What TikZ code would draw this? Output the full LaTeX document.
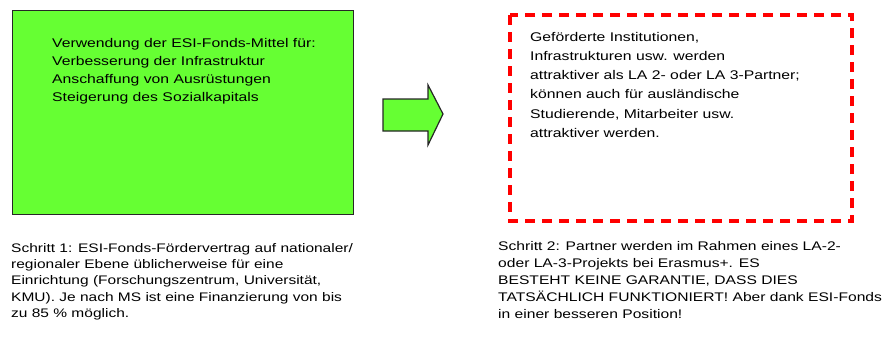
\documentclass[tikz,border=0pt]{standalone}
\usepackage{fontspec}
\setmainfont{Liberation Sans}
\newfontfamily\widefont[FakeStretch=1.25]{Liberation Sans}
\begin{document}
\begin{tikzpicture}[x=1pt,y=-1pt,
  txt/.style={anchor=north west,inner sep=0pt,align=left,text=black},
  greenbox/.style={draw=black!85,line width=1.3pt,fill=grnfill},
  redbox/.style={draw=red,line width=3.5pt,dash pattern=on 10pt off 7pt},
]
\definecolor{grnfill}{HTML}{66FF33}
\useasboundingbox (0,0) rectangle (890,338);
% green box
\node[greenbox,minimum width=341pt,minimum height=204pt,anchor=north west,inner sep=0pt] (gbox) at (12,10) {};
\node[txt,font=\widefont\fontsize{12.6}{18.2}\selectfont] (gtext) at (52,38)
 {Verwendung der ESI-Fonds-Mittel für:\\Verbesserung der Infrastruktur\\Anschaffung von Ausrüstungen\\Steigerung des Sozialkapitals};
% arrow
\filldraw[greenbox,line width=1.2pt] (383,99) -- (428,99) -- (428,85) -- (443,114) -- (428,145) -- (428,131) -- (383,131) -- cycle;
% red dashed box
\draw[redbox] (510,15) rectangle (852,221);
\node[txt,font=\widefont\fontsize{12.6}{19.2}\selectfont] (rtext) at (530,32)
 {Geförderte Institutionen,\\Infrastrukturen usw. werden\\attraktiver als LA 2- oder LA 3-Partner;\\können auch für ausländische\\Studierende, Mitarbeiter usw.\\attraktiver werden.};
% bottom texts
\node[txt,font=\widefont\fontsize{12.4}{16.3}\selectfont] (step1) at (11,243)
 {Schritt 1: ESI-Fonds-Fördervertrag auf nationaler/\\regionaler Ebene üblicherweise für eine\\Einrichtung (Forschungszentrum, Universität,\\KMU). Je nach MS ist eine Finanzierung von bis\\zu 85 \% möglich.};
\node[txt,font=\widefont\fontsize{12.5}{17}\selectfont] (step2) at (498,241)
 {Schritt 2: Partner werden im Rahmen eines LA-2-\\oder LA-3-Projekts bei Erasmus+. ES\\BESTEHT KEINE GARANTIE, DASS DIES\\TATSÄCHLICH FUNKTIONIERT! Aber dank ESI-Fonds\\in einer besseren Position!};
\end{tikzpicture}
\end{document}
